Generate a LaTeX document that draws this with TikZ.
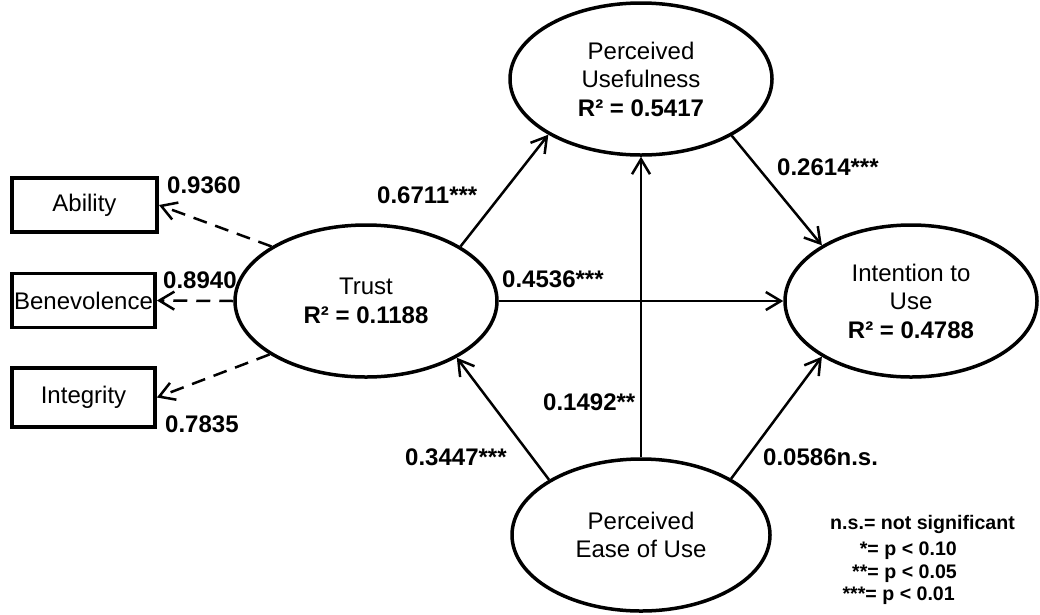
\documentclass[tikz,border=0pt]{standalone}
\usepackage{fontspec}
\setmainfont{Liberation Sans}
\usetikzlibrary{shapes.geometric,arrows.meta}
\begin{document}
\begin{tikzpicture}[x=1pt,y=-1pt,
  construct/.style={ellipse,draw,line width=3.5pt,inner sep=0pt,align=center,font=\fontsize{24}{28.5}\selectfont},
  indicator/.style={rectangle,draw,line width=3.8pt,inner sep=0pt,minimum width=145pt,minimum height=54pt,font=\fontsize{24}{28}\selectfont},
  link/.style={line width=2.5pt,-{Straight Barb[length=15pt,width=18pt]}},
  dlink/.style={link,dash pattern=on 14pt off 9pt},
  coef/.style={font=\bfseries\fontsize{24}{28}\selectfont,inner sep=0pt,anchor=base west},
  legend/.style={font=\bfseries\fontsize{19.6}{22.5}\selectfont,inner sep=0pt,anchor=base east}
]
\useasboundingbox (0,0) rectangle (1040,614);

\node[construct,minimum width=262pt,minimum height=152pt] (PU) at (641,79) {Perceived\\Usefulness\\\textbf{R² = 0.5417}};
\node[construct,minimum width=262pt,minimum height=152pt] (T) at (366,301) {Trust\\\textbf{R² = 0.1188}};
\node[construct,minimum width=252pt,minimum height=152pt] (ITU) at (911,301) {Intention to\\Use\\\textbf{R² = 0.4788}};
\node[construct,minimum width=258pt,minimum height=152pt] (PEOU) at (641,535) {Perceived\\Ease of Use};

\node[indicator] (A) at (84.5,205) {Ability};
\node[indicator,minimum width=143pt] (B) at (83.5,300.5) {Benevolence};
\node[indicator,minimum width=143pt,minimum height=59pt] (I) at (83.5,397.5) {Integrity};

\draw[link] (T.30.7) -- (PU.211.7);
\draw[link] (PU.328.7) -- (ITU.148);
\draw[link] (T.east) -- (ITU.west);
\draw[link] (PEOU.north) -- (PU.south);
\draw[link] (PEOU.149.7) -- (T.328.2);
\draw[link] (PEOU.32) -- (ITU.212.5);
\draw[dlink] (T.150.6) -- (A.east);
\draw[dlink] (T.west) -- (B.east);
\draw[dlink] (T.209.7) -- (I.east);

\node[coef] (c1) at (167,193) {0.9360};
\node[coef] (c2) at (163,288) {0.8940};
\node[coef] (c3) at (165,432) {0.7835};
\node[coef] (c4) at (377,203) {0.6711***};
\node[coef] (c5) at (777,175) {0.2614***};
\node[coef] (c6) at (502,287) {0.4536***};
\node[coef] (c7) at (543,410) {0.1492**};
\node[coef] (c8) at (405,465) {0.3447***};
\node[coef] (c9) at (763,465) {0.0586n.s.};

\node[legend] (l1) at (1015,529) {n.s.= not significant};
\node[legend] (l2) at (957,555) {*= p < 0.10};
\node[legend] (l3) at (957,578) {**= p < 0.05};
\node[legend] (l4) at (955,600) {***= p < 0.01};
\end{tikzpicture}
\end{document}
